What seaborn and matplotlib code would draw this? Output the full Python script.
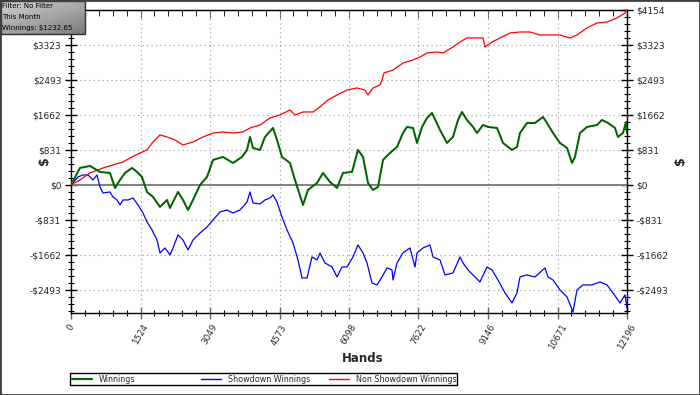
import numpy as np
import pandas as pd
import matplotlib
matplotlib.use("Agg")
import matplotlib.pyplot as plt
import seaborn as sns
from matplotlib.ticker import FixedLocator, AutoMinorLocator
from matplotlib.lines import Line2D
from matplotlib.patches import Rectangle

# ---------------- data ----------------
win_hands = [0, 197, 417, 636, 855, 965, 1075, 1184, 1338, 1448, 1557, 1667, 1799, 1952, 2106,
             2172, 2347, 2457, 2567, 2676, 2830, 2983, 3115, 3334, 3553, 3751, 3861, 3926, 3992,
             4146, 4255, 4431, 4519, 4628, 4804, 4913, 5089, 5198, 5396, 5528, 5681, 5835, 5966,
             6164, 6295, 6405, 6515, 6624, 6734, 6844, 6997, 7151, 7282, 7370, 7502, 7590, 7699,
             7809, 7919, 8094, 8248, 8379, 8489, 8577, 8686, 8818, 8906, 9037, 9147, 9344, 9476,
             9673, 9783, 9849, 10002, 10178, 10353, 10441, 10573, 10726, 10880, 10990, 11055,
             11165, 11318, 11538, 11647, 11779, 11932, 11998, 12108, 12174, 12196]
win_values = [0, 404, 451, 309, 285, -71, 119, 285, 404, 309, 190, -166, -285, -522, -356,
              -546, -166, -356, -594, -356, 0, 190, 594, 665, 522, 665, 831, 1140, 878,
              831, 1140, 1353, 1068, 665, 522, 119, -475, -119, 47, 285, 71, -71, 285,
              309, 831, 665, 47, -119, -47, 594, 760, 902, 1234, 1377, 1353, 997, 1377,
              1591, 1709, 1306, 997, 1140, 1543, 1733, 1543, 1377, 1234, 1424, 1377, 1353, 997,
              831, 902, 1234, 1472, 1472, 1614, 1472, 1234, 997, 878, 522, 665,
              1234, 1377, 1424, 1543, 1472, 1353, 1140, 1234, 1496, 1232.65]

sd_hands = [0, 154, 263, 373, 483, 570, 636, 702, 855, 921, 1009, 1075, 1141, 1250, 1360, 1470,
            1579, 1667, 1777, 1886, 1952, 2062, 2172, 2237, 2347, 2457, 2567, 2676, 2830, 2983,
            3115, 3268, 3422, 3553, 3707, 3861, 3926, 3992, 4146, 4255, 4365, 4431, 4519, 4628,
            4738, 4870, 4979, 5067, 5177, 5286, 5396, 5462, 5571, 5725, 5835, 5944, 6054, 6186,
            6295, 6405, 6493, 6602, 6712, 6822, 6931, 7041, 7063, 7151, 7282, 7436, 7546, 7590,
            7721, 7875, 7941, 8094, 8204, 8379, 8533, 8599, 8708, 8862, 8971, 9125, 9235, 9366,
            9520, 9673, 9783, 9849, 10002, 10178, 10397, 10463, 10573, 10726, 10880, 11011,
            11099, 11231, 11428, 11604, 11757, 11889, 12042, 12152, 12196]
sd_values = [0, 190, 237, 237, 119, 237, -47, -190, -166, -285, -356, -475, -356, -356, -309, -475,
             -665, -878, -1068, -1306, -1614, -1496, -1662, -1496, -1187, -1306, -1543, -1306, -1140, -997,
             -831, -641, -594, -665, -594, -404, -166, -427, -451, -356, -309, -237, -404, -760,
             -1068, -1377, -1781, -2208, -2208, -1709, -1781, -1614, -1852, -1947, -2184, -1947, -1947, -1709,
             -1424, -1614, -1852, -2327, -2374, -2184, -1970, -2018, -2255, -1852, -1614, -1496, -1947, -1614,
             -1496, -1424, -1709, -1781, -2137, -2089, -1709, -1852, -2018, -2184, -2303, -1947, -2018, -2255,
             -2564, -2801, -2564, -2184, -2137, -2184, -1970, -2184, -2255, -2493, -2659, -3015,
             -2493, -2374, -2374, -2303, -2374, -2564, -2801, -2611, -2921]

nsd_hands = [0, 197, 417, 702, 921, 1141, 1338, 1514, 1667, 1799, 1952, 2106, 2281, 2457, 2676,
             2895, 3115, 3334, 3553, 3773, 3926, 4146, 4365, 4585, 4804, 4913, 5089, 5308, 5462,
             5637, 5835, 6054, 6273, 6449, 6515, 6624, 6778, 6822, 6866, 7063, 7282, 7502, 7655,
             7809, 8028, 8160, 8379, 8533, 8686, 8906, 9037, 9081, 9235, 9410, 9629, 9849, 10068,
             10287, 10507, 10726, 10945, 11099, 11318, 11538, 11757, 11976, 12152, 12196]
nsd_values = [0, 119, 285, 404, 475, 546, 665, 760, 831, 1021, 1187, 1140, 1068, 950, 1021,
              1140, 1234, 1258, 1234, 1258, 1353, 1424, 1591, 1662, 1781, 1662, 1733, 1733, 1852,
              2018, 2137, 2255, 2303, 2255, 2137, 2303, 2374, 2493, 2659, 2730, 2896, 2968, 3039,
              3134, 3157, 3134, 3276, 3395, 3490, 3490, 3490, 3276, 3395, 3490, 3608, 3632, 3632,
              3561, 3561, 3561, 3490, 3561, 3727, 3846, 3870, 3965, 4083, 4154]

x_tick_pos = [0, 1524.5, 3049, 4573.5, 6098, 7622.5, 9147, 10671.5, 12196]
x_tick_labels = ["0", "1524", "3049", "4573", "6098", "7622", "9146", "10671", "12196"]
y_tick_pos = [-2492.4, -1661.6, -830.8, 0, 830.8, 1661.6, 2492.4, 3323.2, 4154]
y_tick_labels = ["-$2493", "-$1662", "-$831", "$0", "$831", "$1662", "$2493", "$3323", "$4154"]

series_names = ["Winnings", "Showdown Winnings", "Non Showdown Winnings"]
series_colors = ["#006400", "#0000FF", "#FF0000"]
info_lines = ["Filter: No Filter", "This Month", "Winnings: $1232.65"]

# ---------------- figure ----------------
sns.set_style("white")
plt.rcParams["font.family"] = ["DejaVu Sans"]

W, H = 700, 395
fig = plt.figure(figsize=(7.0, 3.95), dpi=100)
fig.patch.set_facecolor("white")
ax = fig.add_axes([71 / W, 1 - 313 / H, (627 - 71) / W, (313 - 10) / H])

df_sd = pd.DataFrame({"hands": sd_hands, "value": sd_values})
df_nsd = pd.DataFrame({"hands": nsd_hands, "value": nsd_values})
df_win = pd.DataFrame({"hands": win_hands, "value": win_values})

ax.axhline(0, color="#808080", lw=1.4, zorder=1)
sns.lineplot(data=df_sd, x="hands", y="value", ax=ax, color=series_colors[1], lw=0.9,
             estimator=None, sort=False, zorder=3)
sns.lineplot(data=df_nsd, x="hands", y="value", ax=ax, color=series_colors[2], lw=0.9,
             estimator=None, sort=False, zorder=3)
sns.lineplot(data=df_win, x="hands", y="value", ax=ax, color=series_colors[0], lw=1.45,
             estimator=None, sort=False, zorder=4)

ax.set_xlim(0, 12196)
ax.set_ylim(-3040, 4154)
ax.set_xlabel("")
ax.set_ylabel("")

ax.xaxis.set_major_locator(FixedLocator(x_tick_pos))
ax.set_xticklabels(x_tick_labels, rotation=60, fontsize=6.3)
ax.yaxis.set_major_locator(FixedLocator(y_tick_pos))
ax.set_yticklabels(y_tick_labels, fontsize=6.5)
ax.xaxis.set_minor_locator(AutoMinorLocator(5))
ax.yaxis.set_minor_locator(FixedLocator([-2492.4 - 166.16 * k for k in (1, 2, 3)] +
                                        [y_tick_pos[i] + 166.16 * k
                                         for i in range(len(y_tick_pos) - 1) for k in (1, 2, 3, 4)]))

ax.tick_params(axis="y", which="major", direction="inout", length=8, width=1, color="black",
               left=True, right=True, labelleft=True, labelright=True, pad=3)
ax.tick_params(axis="y", which="minor", direction="inout", length=5, width=0.8, color="black",
               left=True, right=True)
ax.tick_params(axis="x", which="major", direction="inout", length=8, width=1, color="#606060",
               bottom=True, top=False, pad=3)
ax.tick_params(axis="x", which="minor", direction="inout", length=5, width=0.8, color="black",
               bottom=True, top=False)

top = ax.secondary_xaxis("top")
top.xaxis.set_major_locator(FixedLocator(x_tick_pos))
top.xaxis.set_minor_locator(AutoMinorLocator(5))
top.tick_params(which="major", direction="in", length=6, color="#606060", labeltop=False)
top.tick_params(which="minor", direction="in", length=4, color="black")
top.spines["top"].set_color("black")

for s in ax.spines.values():
    s.set_color("black")
    s.set_linewidth(1)

ax.grid(True, which="major", color="#999999", linestyle=(0, (1, 3)), lw=0.8)
ax.set_axisbelow(True)

# axis titles
fig.text(45 / W, 1 - 161 / H, "$", rotation=90, ha="center", va="center",
         fontsize=9, fontweight="bold")
fig.text(681 / W, 1 - 161 / H, "$", rotation=90, ha="center", va="center",
         fontsize=9, fontweight="bold")
fig.text(363 / W, 1 - 358 / H, "Hands", ha="center", va="center",
         fontsize=8.5, fontweight="bold")

# legend: three groups inside one framed box
legend_x = [72, 201, 329]
for name, col, lx in zip(series_names, series_colors, legend_x):
    h = Line2D([], [], color=col, lw=1.6 if name == "Winnings" else 1.0)
    lg = fig.legend([h], [name], loc="center left",
                    bbox_to_anchor=(lx / W, 1 - 379 / H), frameon=False,
                    fontsize=5.8, handlelength=2.5, handletextpad=0.8,
                    borderpad=0, borderaxespad=0)
fig.add_artist(Rectangle((70 / W, 1 - 385 / H), (457 - 70) / W, 12 / H,
                         transform=fig.transFigure, fill=False, edgecolor="black", lw=1))

# info box (gradient image drawn directly on the figure)
bw, bh = 85, 34
gx, gy = np.meshgrid(np.linspace(0, 1, bw), np.linspace(0, 1, bh))
grad = 0.45 * gx + 0.55 * gy
c0 = np.array([0xd4, 0xd4, 0xd4]) / 255.0
c1 = np.array([0x7c, 0x7c, 0x7c]) / 255.0
img = c0[None, None, :] * (1 - grad[..., None]) + c1[None, None, :] * grad[..., None]
fig.figimage(img, xo=0, yo=H - bh, origin="upper", zorder=5)
fig.add_artist(Rectangle((0.5 / W, 1 - (bh - 0.5) / H), (bw - 1) / W, (bh - 1) / H,
                         transform=fig.transFigure, fill=False, edgecolor="#303030",
                         lw=1, zorder=6))
for i, t in enumerate(info_lines):
    fig.text(2.5 / W, 1 - (8 + 11 * i) / H, t, ha="left", va="baseline",
             fontsize=5.0, color="black", zorder=7)

# figure border
fig.add_artist(Rectangle((0, 0), 1, 1, transform=fig.transFigure, fill=False,
                         edgecolor="#404040", lw=2, zorder=8))

fig.savefig("out.png", dpi=100)
